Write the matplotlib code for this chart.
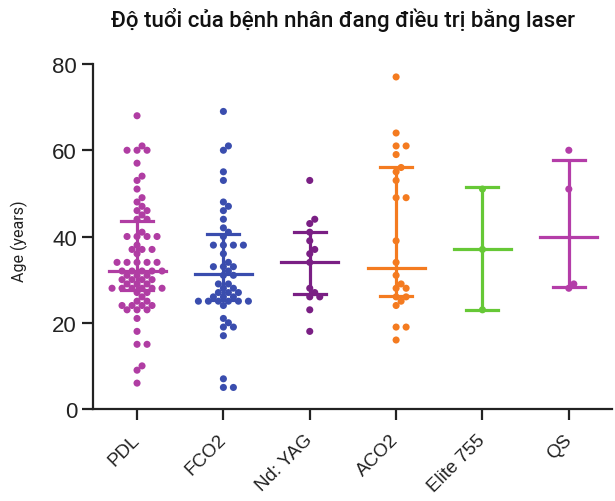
import matplotlib
matplotlib.use('Agg')
import matplotlib.pyplot as plt
import numpy as np

# Data
groups = ['PDL', 'FCO2', 'Nd: YAG', 'ACO2', 'Elite 755', 'QS']
colors = ['#B03DA3', '#3A4DAE', '#7A1F84', '#F47B20', '#66C836', '#B43DA8']

pdl = [68, 61, 60, 60, 60, 57, 54, 53, 51, 49, 48, 47, 46, 46, 45, 44, 44,
       41, 40, 40, 40, 40, 38, 37, 37, 37, 36, 34, 34, 34, 34, 34, 32, 32, 32,
       32, 32, 31, 31, 31, 30, 30, 30, 30, 29, 29, 29, 28, 28, 28, 28, 28, 28,
       27, 27, 26, 25, 25, 24, 24, 24, 24, 23, 23, 23, 21, 18, 15, 15, 10, 9, 6]
fco2 = [69, 61, 60, 55, 53, 48, 47, 46, 44, 42, 41, 40, 38, 38, 38, 38, 36,
        34, 33, 33, 33, 32, 31, 31, 29, 29, 28, 28, 27, 27, 27, 26, 26, 26,
        25, 25, 25, 25, 25, 25, 24, 21, 20, 19, 19, 17, 7, 5, 5]
ndyag = [53, 44, 43, 41, 39, 37, 36, 34, 28, 27, 26, 26, 23, 18]
aco2 = [77, 64, 61, 61, 59, 56, 55, 53, 49, 49, 39, 34, 31, 29, 28, 28, 26,
        26, 25, 24, 19, 19, 16]
elite = [23, 37, 51]
qs = [28, 29, 51, 60]
data = [pdl, fco2, ndyag, aco2, elite, qs]

# median and interquartile range (error bars)
medians = [32.0, 31.2, 34.2, 32.6, 37.1, 40.0]
q1 = [27.5, 25.2, 26.7, 26.1, 23.0, 28.2]
q3 = [43.7, 40.6, 41.1, 56.2, 51.4, 57.7]

W, H = 615, 502
fig = plt.figure(figsize=(W / 100, H / 100), dpi=100)
ax = fig.add_axes([93 / W, 92 / H, 519 / W, 345 / H])
ax.set_xlim(-0.51, 5.5)
ax.set_ylim(0, 80)

# simple beeswarm, worked out in pixels
px_x = 519 / 6.01
px_y = 345 / 80.
gap_x = 10.0
gap_y = 5.0


def swarm(vals):
    offs = np.zeros(len(vals))
    order = np.argsort(vals, kind='stable')
    placed = []
    cands = np.arange(-16, 17) * gap_x / 2
    cands = cands[np.argsort(np.abs(cands) + 1e-3 * (cands < 0))]
    for i in order:
        y = vals[i] * px_y
        for c in cands:
            if all(((c - px) / gap_x) ** 2 + ((y - py) / gap_y) ** 2 >= 0.95
                   for px, py in placed):
                break
        placed.append((c, y))
        offs[i] = c / px_x
    return offs


for k, vals in enumerate(data):
    vals = np.array(vals, dtype=float)
    xs = k + swarm(vals)
    c = colors[k]
    ax.scatter(xs, vals, s=26, color=c, edgecolor='none', zorder=2)
    ax.plot([k, k], [q1[k], q3[k]], color=c, lw=2.3, zorder=3,
            solid_capstyle='butt')
    for q in (q1[k], q3[k]):
        ax.plot([k - 0.185, k + 0.185], [q, q], color=c, lw=2.3, zorder=3)
    ax.plot([k - 0.33, k + 0.33], [medians[k], medians[k]], color=c,
            lw=2.3, zorder=3)

for s in ('top', 'right'):
    ax.spines[s].set_visible(False)
for s in ('left', 'bottom'):
    ax.spines[s].set_linewidth(1.6)
    ax.spines[s].set_color('#222222')

ax.set_yticks([0, 20, 40, 60, 80])
ax.set_xticks(range(len(groups)))
ax.tick_params(length=8, width=1.6, color='#222222', labelcolor='#222222')
ax.tick_params(axis='x', pad=12)
ax.set_yticklabels(['0', '20', '40', '60', '80'], fontsize=16,
                   family='Liberation Sans')
ax.set_xticklabels(groups, rotation=45, ha='right', va='center',
                   rotation_mode='anchor', fontsize=13.5,
                   family='Liberation Sans')
ax.set_ylabel('Age (years)', fontsize=11.5, family='Roboto', color='#222222')
ax.yaxis.set_label_coords(-0.125, 0.49)

fig.text(343 / W, 1 - 20 / H, 'Độ tuổi của bệnh nhân đang điều trị bằng laser',
         ha='center', va='center', fontsize=16, family='Roboto',
         fontweight='medium', color='#111111')

fig.savefig('out.png', dpi=100)
